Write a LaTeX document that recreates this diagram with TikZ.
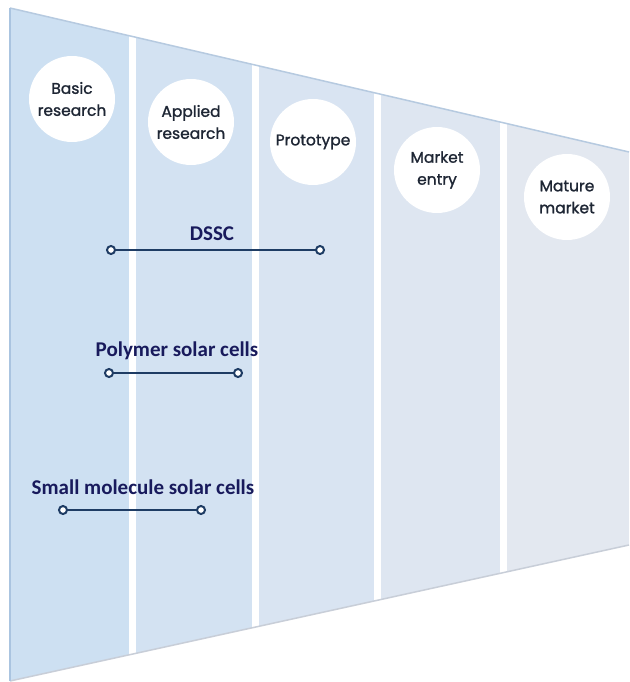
\documentclass[tikz,border=0pt]{standalone}
\usepackage{fontspec}
\newfontfamily\stagefont[FakeBold=1.3]{Poppins}
\newfontfamily\techfont{Carlito}
\definecolor{colA}{RGB}{205,224,242}
\definecolor{colB}{RGB}{211,226,242}
\definecolor{colC}{RGB}{217,228,242}
\definecolor{colD}{RGB}{222,230,241}
\definecolor{colE}{RGB}{227,232,240}
\definecolor{navy}{RGB}{24,26,92}
\definecolor{barblue}{RGB}{30,60,100}
\definecolor{stagetext}{RGB}{30,38,52}
\tikzset{
  stage/.style={circle, fill=white, minimum size=86pt, inner sep=0pt, align=center,
    font=\stagefont\fontsize{15.5}{22}\selectfont, text=stagetext},
  tech/.style={font=\techfont\bfseries\fontsize{21}{24}\selectfont, text=navy},
  dot/.style={circle, draw=barblue, line width=2pt, fill=white, minimum size=8pt, inner sep=0pt},
  bar/.style={draw=barblue, line width=2pt},
  sep/.style={white, line width=7pt}
}
\begin{document}
\begin{tikzpicture}[x=1pt, y=-1pt]
\useasboundingbox[fill=white] (0,0) rectangle (629,682);
\coordinate (TL) at (10,8);
\coordinate (TR) at (629,152);
\coordinate (BR) at (629,545);
\coordinate (BL) at (10,681);
% columns
\begin{scope}
\clip (TL) -- (TR) -- (BR) -- (BL) -- cycle;
\fill[colA] (0,0) rectangle (132,682);
\fill[colB] (132,0) rectangle (255,682);
\fill[colC] (255,0) rectangle (377,682);
\fill[colD] (377,0) rectangle (503,682);
\fill[colE] (503,0) rectangle (629,682);
\draw[sep] (132,0) -- (132,682);
\draw[sep] (255,0) -- (255,682);
\draw[sep] (377,0) -- (377,682);
\draw[sep] (503,0) -- (503,682);
\end{scope}
% edges
\draw[color={rgb,255:red,182;green,202;blue,224}, line width=1.5pt] (TL) -- (TR);
\draw[color={rgb,255:red,200;green,206;blue,216}, line width=1.5pt] (BL) -- (BR);
\draw[color={rgb,255:red,170;green,196;blue,224}, line width=1.5pt] (TL) -- (BL);
% stages
\node[stage] (basic) at (72,99) {Basic\\research};
\node[stage] (applied) at (191,122) {Applied\\research};
\node[stage] (proto) at (313,142) {Prototype};
\node[stage] (entry) at (437,170) {Market\\entry};
\node[stage] (mature) at (567,197) {Mature\\market};
% technologies
\node[tech] (dssc) at (212,234) {DSSC};
\node[dot] (dssc-a) at (111,250) {};
\node[dot] (dssc-b) at (320,250) {};
\draw[bar] (dssc-a) -- (dssc-b);
\node[tech] (poly) at (177,351) {Polymer solar cells};
\node[dot] (poly-a) at (109,373) {};
\node[dot] (poly-b) at (238,373) {};
\draw[bar] (poly-a) -- (poly-b);
\node[tech] (small) at (143,487) {Small molecule solar cells};
\node[dot] (small-a) at (63,510) {};
\node[dot] (small-b) at (201,510) {};
\draw[bar] (small-a) -- (small-b);
\end{tikzpicture}
\end{document}
